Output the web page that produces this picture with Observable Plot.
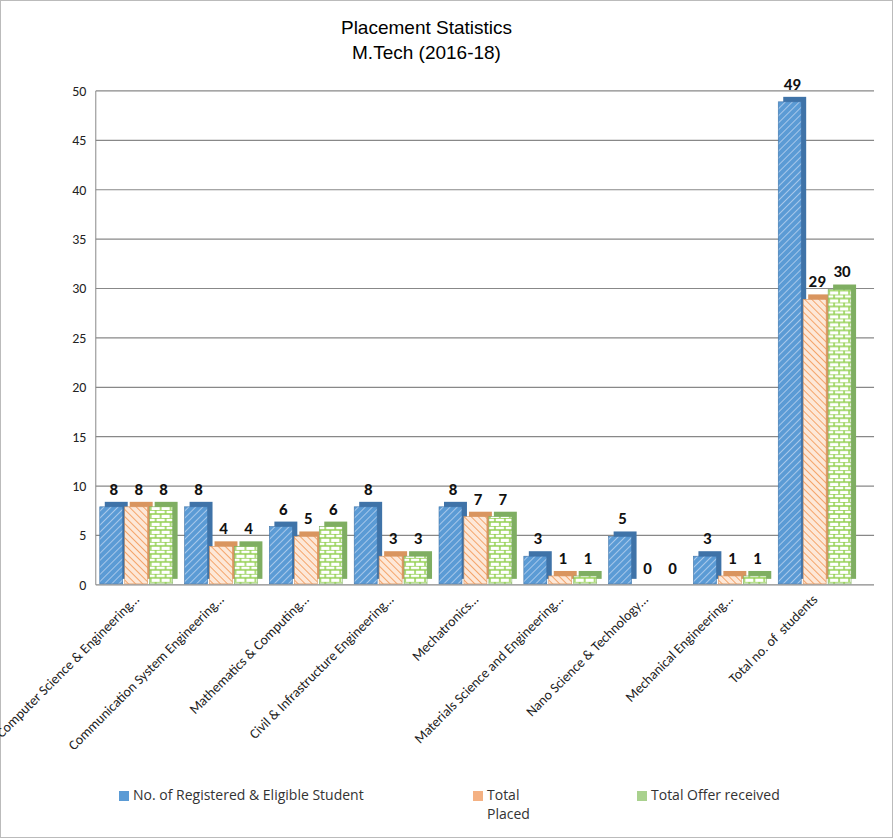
<!DOCTYPE html>
<html><head><meta charset="utf-8">
<script src="https://cdn.jsdelivr.net/npm/d3@7"></script>
<script src="https://cdn.jsdelivr.net/npm/@observablehq/plot@0.6"></script>
<style>
body{margin:0;font-family:Calibri,"Liberation Sans",Arial,sans-serif;background:#fff}
#frame{position:relative;width:891px;height:836px;border:1px solid #bbb}
#title{text-align:center;font-family:Arial,"Liberation Sans";font-size:19px;line-height:25px;padding-top:14px;height:56px;padding-right:40px}
#legend{position:absolute;top:784px;left:0;width:893px;font-family:"Open Sans",sans-serif;font-size:14px;color:#333}
#legend span{position:absolute}
#legend i{display:inline-block;width:10px;height:10px;margin-right:4px;vertical-align:-1px}
</style></head><body>
<div id="frame">
<div id="title">Placement Statistics<br>M.Tech (2016-18)</div>
<div id="chart"></div>
<div id="legend">
<span style="left:118px"><i style="background:#5b9bd5"></i>No. of Registered &amp; Eligible Student</span>
<span style="left:472px"><i style="background:#f4b183"></i>Total<br><span style="position:static;padding-left:14px">Placed</span></span>
<span style="left:636px"><i style="background:#a9d18e"></i>Total Offer received</span>
</div>
</div>
<script>
const categories = ["Computer Science & Engineering…","Communication System Engineering…","Mathematics & Computing…","Civil & Infrastructure Engineering…","Mechatronics…","Materials Science and Engineering…","Nano Science & Technology…","Mechanical Engineering…","Total no. of  students"];
const registered = [8,8,6,8,8,3,5,3,49];
const placed = [8,4,5,3,7,1,0,1,29];
const offers = [8,4,6,3,7,1,0,1,30];
const seriesNames = ["Registered","Placed","Offers"];
const yTicks = [0,5,10,15,20,25,30,35,40,45,50];
const values = [registered, placed, offers];

const data = [];
categories.forEach((c,i)=>seriesNames.forEach((s,j)=>data.push({cat:c,series:s,value:values[j][i]})));

const fills = {Registered:"url(#pBlue)",Placed:"url(#pOrange)",Offers:"url(#pGreen)"};
const sides = {Registered:"#3f73a8",Placed:"#d9955f",Offers:"#7fae62"};

const marks = [];
for (const s of seriesNames) {
  const d = data.filter(r=>r.series===s);
  marks.push(Plot.barY(d,{fx:"cat",x:"series",y:"value",fill:sides[s],dx:5,dy:-5,inset:1}));
  marks.push(Plot.barY(d,{fx:"cat",x:"series",y:"value",fill:fills[s],stroke:sides[s],strokeWidth:0.6,inset:1}));
}
marks.push(Plot.text(data,{fx:"cat",x:"series",y:"value",text:"value",dy:-17,dx:2,fontWeight:"bold",fontSize:17,fill:"#111"}));

const chart = Plot.plot({
  width:893, height:700,
  marginLeft:95, marginRight:38, marginTop:20, marginBottom:185,
  fx:{domain:categories,label:null,padding:0.1,tickRotate:-45,tickSize:0,tickFormat:d=>d,fontSize:11},
  x:{domain:seriesNames,axis:null,padding:0.02},
  y:{domain:[0,50],ticks:yTicks,label:null,tickSize:0,tickPadding:12},
  style:{fontFamily:"Calibri,'Open Sans',sans-serif",fontSize:"14px",color:"#222",overflow:"visible"},
  marks
});
const svg = d3.select(chart);
const defs = svg.insert("defs",":first-child");
const p1 = defs.append("pattern").attr("id","pBlue").attr("patternUnits","userSpaceOnUse").attr("width",5).attr("height",5).attr("patternTransform","rotate(45)");
p1.append("rect").attr("width",5).attr("height",5).attr("fill","#5b9bd5");
p1.append("line").attr("x1",0).attr("y1",0).attr("x2",0).attr("y2",5).attr("stroke","#a8c8ea").attr("stroke-width",2);
const p2 = defs.append("pattern").attr("id","pOrange").attr("patternUnits","userSpaceOnUse").attr("width",5).attr("height",5).attr("patternTransform","rotate(-45)");
p2.append("rect").attr("width",5).attr("height",5).attr("fill","#fde8d8");
p2.append("line").attr("x1",0).attr("y1",0).attr("x2",0).attr("y2",5).attr("stroke","#f4a46a").attr("stroke-width",2);
const p3 = defs.append("pattern").attr("id","pGreen").attr("patternUnits","userSpaceOnUse").attr("width",10).attr("height",8);
p3.append("rect").attr("width",10).attr("height",8).attr("fill","#fff");
p3.append("path").attr("d","M0,0H10M0,4H10M3,0V4M8,4V8").attr("stroke","#92d050").attr("stroke-width",1.5).attr("fill","none");
// continuous gridlines across facets, using Plot's y scale
const ys = chart.scale("y");
const grid = svg.insert("g","defs + *");
grid.selectAll("line").data(yTicks).join("line")
  .attr("x1",95).attr("x2",875).attr("y1",d=>ys.apply(d)).attr("y2",d=>ys.apply(d))
  .attr("stroke","#888").attr("stroke-width",1.2);
grid.append("line").attr("x1",95).attr("x2",95).attr("y1",ys.apply(50)).attr("y2",ys.apply(0)).attr("stroke","#888");
document.getElementById("chart").append(chart);
</script>
</body></html>
